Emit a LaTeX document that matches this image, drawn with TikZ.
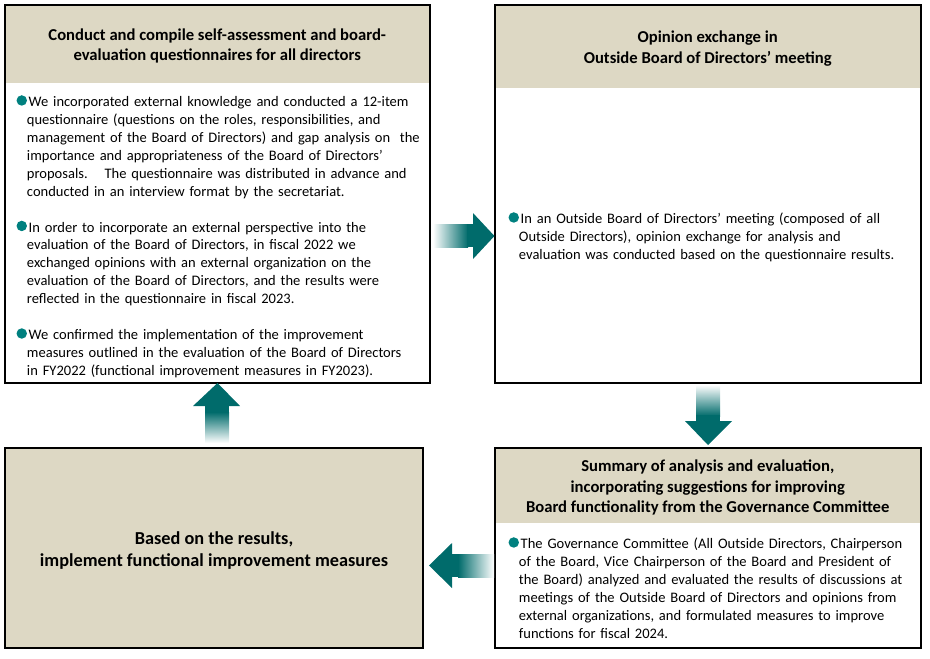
\documentclass[tikz,border=0pt]{standalone}
\usepackage{fontspec}
\setmainfont{Carlito}
\usetikzlibrary{fit,calc,backgrounds}

\definecolor{headtan}{HTML}{DDD8C4}
\definecolor{arrowteal}{HTML}{006B6B}
\definecolor{dotteal}{HTML}{00807F}

\newcommand\tealdot{\tikz[baseline=0pt]\fill[dotteal] (0.36em,0.42em) circle (0.36em);}
\newcommand\bpara[1]{{\leftskip=0.74em\noindent\llap{\tealdot}\hspace{0.12em}#1\par}}

\begin{document}
\begin{tikzpicture}[
  x=0.03cm, y=-0.03cm,
  frame/.style={draw=black,line width=0.9pt,inner sep=0pt},
  head/.style={fill=headtan,inner sep=0pt},
  title/.style={align=center,yshift=-2pt,font=\fontsize{14.2}{17.4}\selectfont\bfseries},
  body/.style={align=left,inner sep=0pt,font=\fontsize{12.4}{15.3}\selectfont},
  shaft/.style={draw=none},
  tip/.style={fill=arrowteal},
]
\useasboundingbox (0,0) rectangle (930,658);

% boxes
\node[frame,fit={(5,5) (430,383)}]     (quest) {};
\node[frame,fit={(495,5) (921,383)}]   (opin)  {};
\node[frame,fit={(495,448) (921,648)}] (summ)  {};
\node[frame,fit={(5,448) (423,648)},fill=headtan] (impl) {};

% header bands
\begin{scope}[on background layer]
\node[head,fit={(quest.north west) (430,83)}] (questhead) {};
\node[head,fit={(opin.north west) (921,88)}]  (opinhead)  {};
\node[head,fit={(summ.north west) (921,523)}]  (summhead)  {};
\end{scope}

% titles
\node[title] at (questhead.center) {Conduct and compile self-assessment and board-\\evaluation questionnaires for all directors};
\node[title] at (opinhead.center) {Opinion exchange in\\Outside Board of Directors’ meeting};
\node[title] at (summhead.center) {Summary of analysis and evaluation,\\incorporating suggestions for improving\\Board functionality from the Governance Committee};
\node[title,font=\fontsize{15.6}{18.8}\selectfont\bfseries] at (impl.center) {Based on the results,\\implement functional improvement measures};

% texts
\node[body,text width=12.4cm,anchor=north west] (questtext) at (16,95) {%
\bpara{We incorporated external knowledge and conducted a 12-item\\
questionnaire (questions on the roles, responsibilities, and\\
management of the Board of Directors) and gap analysis on~ the\\
importance and appropriateness of the Board of Directors’\\
proposals.~~ The questionnaire was distributed in advance and\\
conducted in an interview format by the secretariat.}
\vspace{15.3pt}
\bpara{In order to incorporate an external perspective into the\\
evaluation of the Board of Directors, in fiscal 2022 we\\
exchanged opinions with an external organization on the\\
evaluation of the Board of Directors, and the results were\\
reflected in the questionnaire in fiscal 2023.}
\vspace{15.3pt}
\bpara{We confirmed the implementation of the improvement\\
measures outlined in the evaluation of the Board of Directors\\
in FY2022 (functional improvement measures in FY2023).}};

\node[body,text width=12.3cm,anchor=west] (opintext) at (508,237) {%
\bpara{In an Outside Board of Directors’ meeting (composed of all\\
Outside Directors), opinion exchange for analysis and\\
evaluation was conducted based on the questionnaire results.}};

\node[body,text width=12.5cm,anchor=north west] (summtext) at (508,537) {%
\bpara{The Governance Committee (All Outside Directors, Chairperson\\
of the Board, Vice Chairperson of the Board and President of\\
the Board) analyzed and evaluated the results of discussions at\\
meetings of the Outside Board of Directors and opinions from\\
external organizations, and formulated measures to improve\\
functions for fiscal 2024.}};

% arrows: quest -> opin -> summ -> impl -> quest
\shade[shaft,left color=white,right color=arrowteal] (433,224) rectangle (468,247);
\fill[arrowteal] (467,224) rectangle (474,247);
\fill[tip] (473,213) -- (opin.west |- 0,236) -- (473,259) -- cycle;

\shade[shaft,top color=white,bottom color=arrowteal] (696,385) rectangle (720,416);
\fill[arrowteal] (696,415) rectangle (720,422);
\fill[tip] (685,421) -- (708,445) -- (732,421) -- cycle;

\shade[shaft,left color=arrowteal,right color=white] (458,554) rectangle (494,577);
\fill[arrowteal] (451,554) rectangle (459,577);
\fill[tip] (452,543) -- (429,565.5) -- (452,588) -- cycle;

\shade[shaft,top color=arrowteal,bottom color=white] (205,412) rectangle (229,443);
\fill[arrowteal] (205,405) rectangle (229,413);
\fill[tip] (193,406) -- (quest.south |- 217,383) -- (240,406) -- cycle;
\end{tikzpicture}
\end{document}
